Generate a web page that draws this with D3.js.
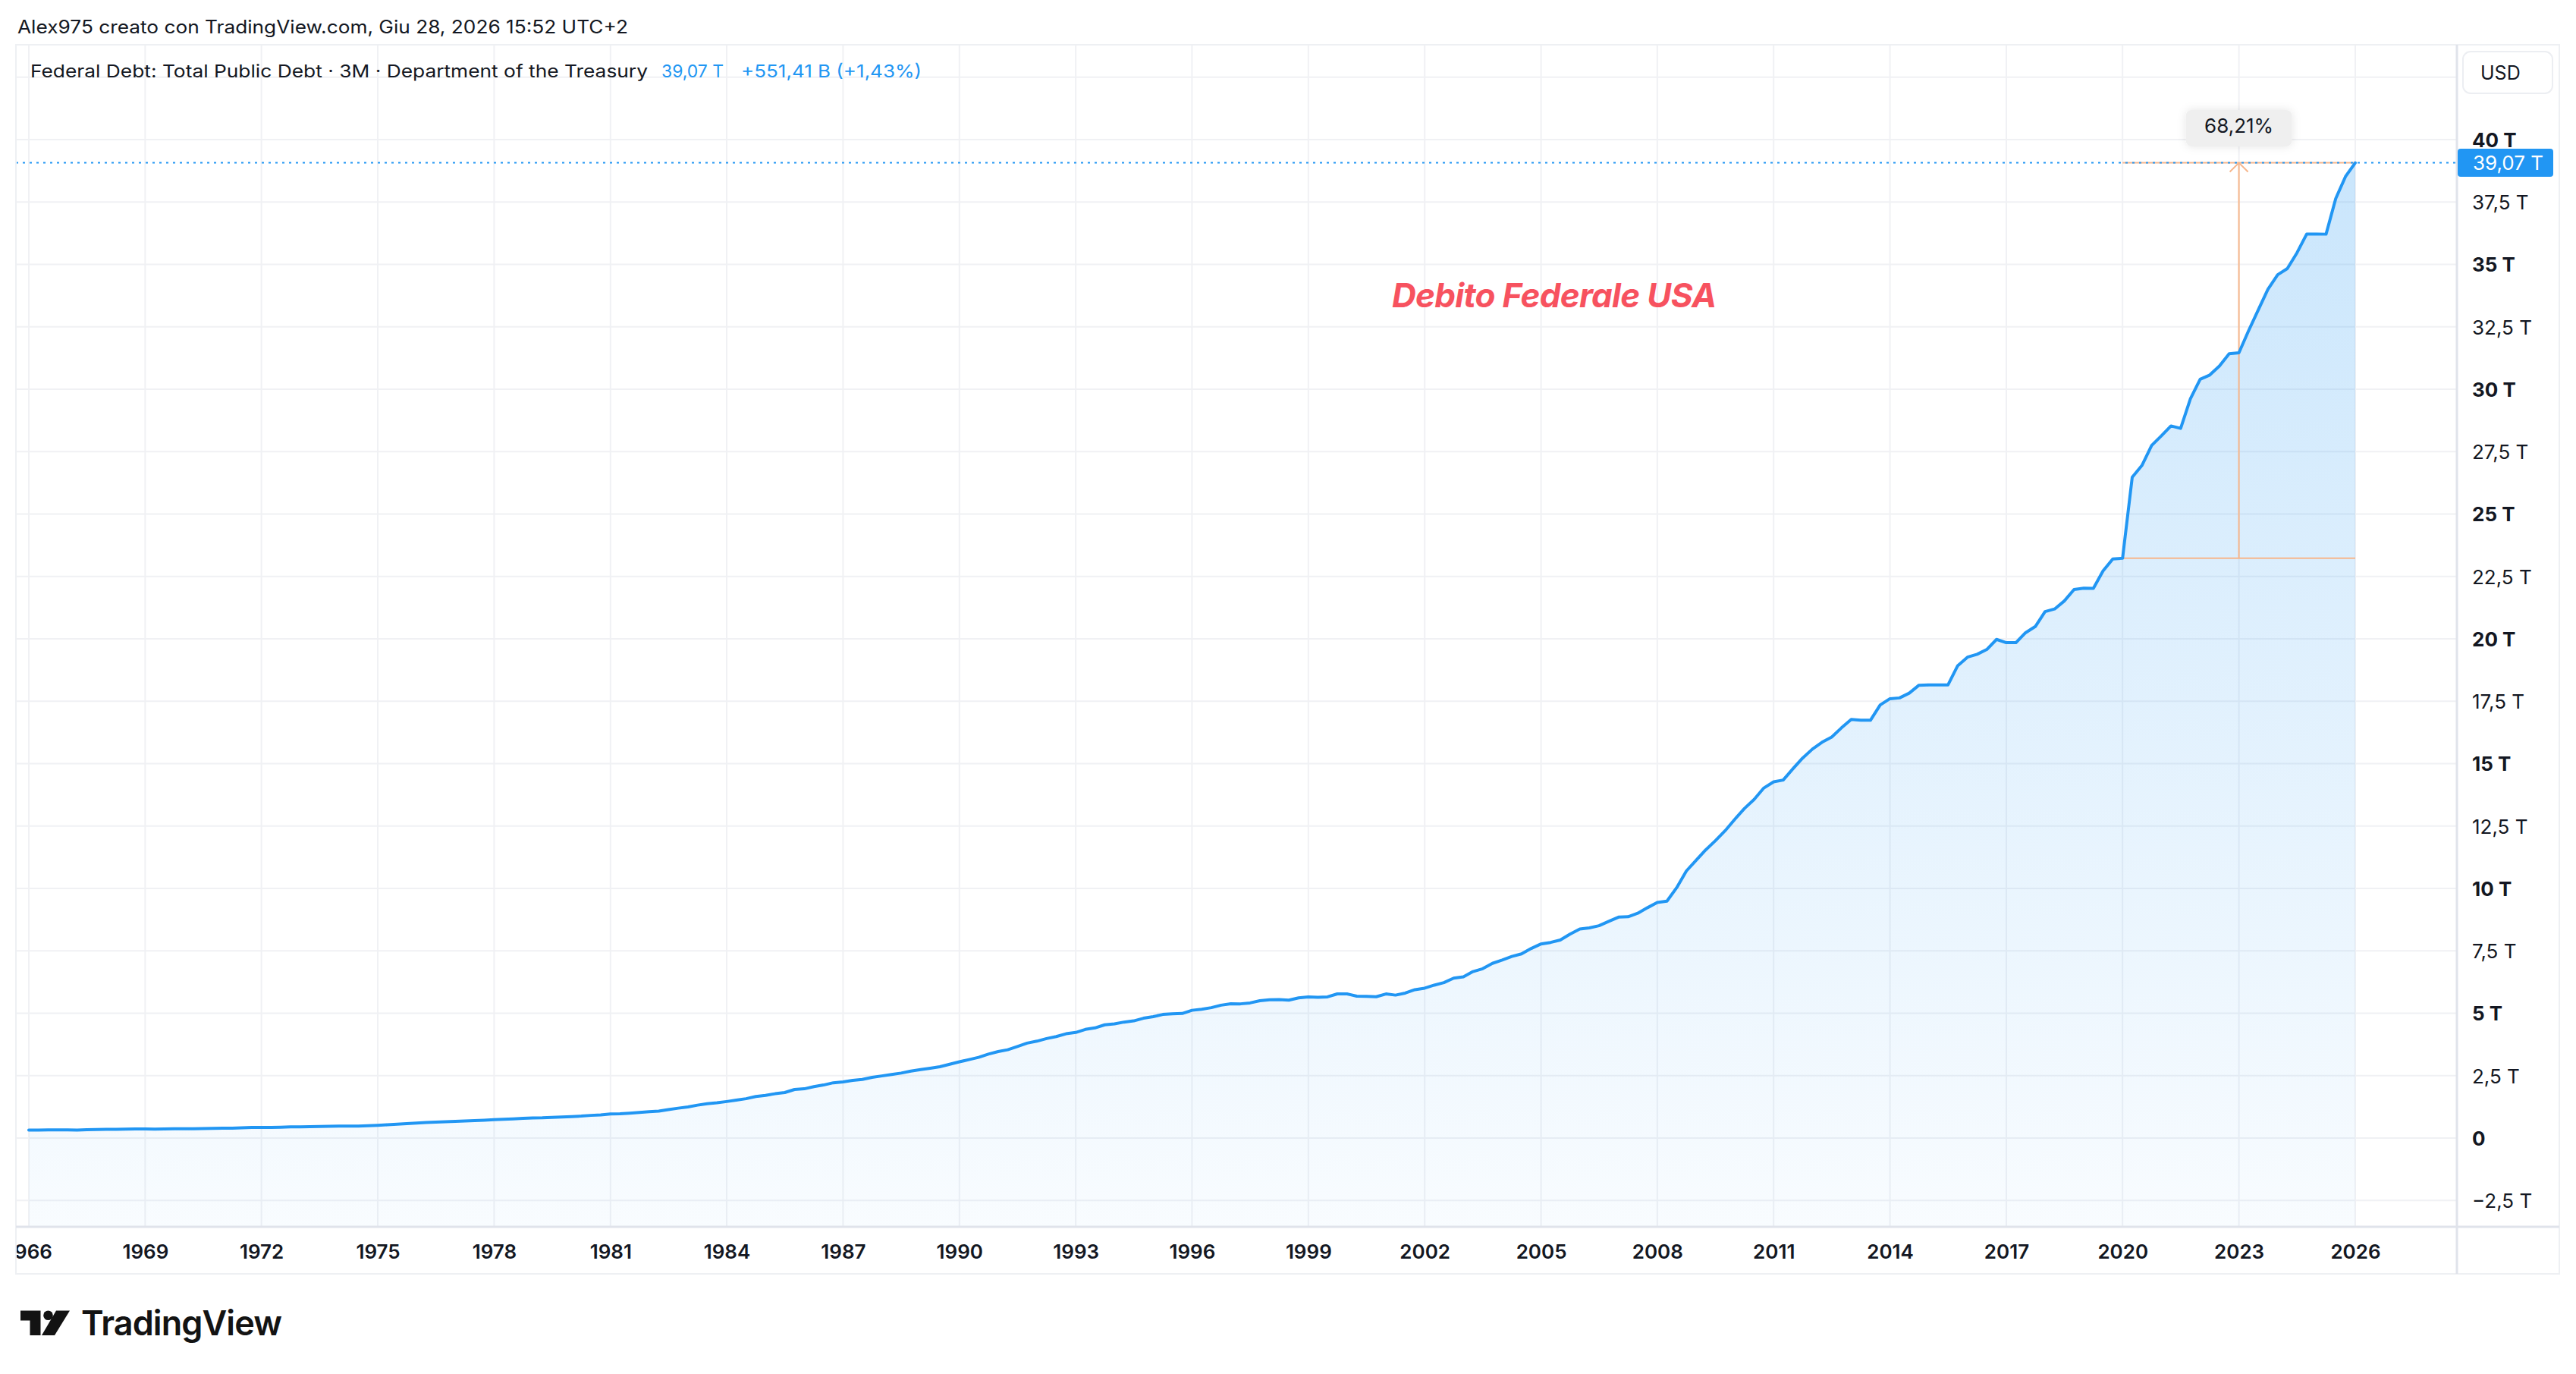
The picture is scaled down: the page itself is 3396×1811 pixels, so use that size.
<!DOCTYPE html>
<html><head><meta charset="utf-8">
<script src="https://cdn.jsdelivr.net/npm/d3@7"></script>
<style>
body{margin:0;background:#fff;}
svg{display:block;font-family:Inter,"Noto Sans",sans-serif;}
</style></head><body>
<svg id="c" width="3396" height="1811"></svg>
<script>
// ---------- DATA (Federal Debt: Total Public Debt, billions USD, quarterly from 1966 Q1) ----------
const startYear = 1966;
const debtBillions = [
  321, 317, 324, 329,      // 1966
  330, 322, 337, 344,      // 1967
  349, 348, 358, 363,      // 1968
  362, 354, 366, 370,      // 1969
  372, 370, 383, 390,      // 1970
  392, 398, 414, 425,      // 1971
  428, 427, 436, 447,      // 1972
  452, 458, 463, 470,      // 1973
  475, 475, 482, 492,      // 1974
  509, 533, 554, 576,      // 1975
  599, 620, 635, 654,      // 1976
  672, 685, 698, 718,      // 1977
  737, 750, 771, 790,      // 1978
  806, 812, 827, 845,      // 1979
  862, 878, 908, 930,      // 1980
  964, 971, 998, 1028,     // 1981
  1058, 1080, 1142, 1197,  // 1982
  1244, 1318, 1377, 1411,  // 1983
  1463, 1518, 1577, 1663,  // 1984
  1710, 1775, 1823, 1945,  // 1985
  1973, 2060, 2125, 2214,  // 1986
  2251, 2310, 2350, 2431,  // 1987
  2488, 2547, 2602, 2684,  // 1988
  2741, 2799, 2857, 2954,  // 1989
  3053, 3143, 3233, 3364,  // 1990
  3465, 3538, 3665, 3802,  // 1991
  3881, 3985, 4065, 4177,  // 1992
  4231, 4352, 4412, 4536,  // 1993
  4576, 4646, 4693, 4800,  // 1994
  4864, 4951, 4974, 4989,  // 1995
  5118, 5162, 5224, 5323,  // 1996
  5381, 5376, 5413, 5502,  // 1997
  5542, 5548, 5526, 5614,  // 1998
  5651, 5638, 5656, 5776,  // 1999
  5773, 5686, 5674, 5662,  // 2000
  5773, 5726, 5807, 5943,  // 2001
  6006, 6126, 6228, 6405,  // 2002
  6460, 6670, 6783, 6998,  // 2003
  7131, 7274, 7379, 7596,  // 2004
  7776, 7837, 7933, 8170,  // 2005
  8371, 8420, 8507, 8680,  // 2006
  8849, 8867, 9008, 9229,  // 2007
  9437, 9492, 10025, 10699,   // 2008
  11127, 11545, 11910, 12311, // 2009
  12773, 13202, 13562, 14025, // 2010
  14270, 14343, 14790, 15223, // 2011
  15582, 15856, 16066, 16433, // 2012
  16772, 16738, 16738, 17352, // 2013
  17602, 17633, 17824, 18141, // 2014
  18152, 18152, 18151, 18922, // 2015
  19265, 19382, 19573, 19977, // 2016
  19847, 19845, 20245, 20493, // 2017
  21090, 21195, 21516, 21974, // 2018
  22028, 22023, 22719, 23201, // 2019
  23228, 26477, 26945, 27748, // 2020
  28133, 28529, 28429, 29617, // 2021
  30401, 30568, 30929, 31420, // 2022
  31458, 32332, 33167, 34001, // 2023
  34587, 34832, 35465, 36218, // 2024
  36215, 36212, 37638, 38519.5, // 2025
  39070.91                    // 2026 Q1
];
const xTickYears = [1966,1969,1972,1975,1978,1981,1984,1987,1990,1993,1996,1999,2002,2005,2008,2011,2014,2017,2020,2023,2026];
const yTickValues = [-2.5,0,2.5,5,7.5,10,12.5,15,17.5,20,22.5,25,27.5,30,32.5,35,37.5,40];
const yGridExtra = [42.5];
const measureStart = new Date(2020,0,1);
const headerText = "Alex975 creato con TradingView.com, Giu 28, 2026 15:52 UTC+2";
const legendTitle = "Federal Debt: Total Public Debt · 3M · Department of the Treasury";
const chartTitle = "Debito Federale USA";
const currency = "USD";

// ---------- SETUP ----------
const it = d3.formatLocale({decimal:",", thousands:".", grouping:[3], currency:["","€"], minus:"−"});
const fmtT = it.format(".1~f");
const fmt2 = it.format(".2f");

const data = debtBillions.map((v,i)=>({date:new Date(startYear+Math.floor(i/4),(i%4)*3,1), t:v/1000}));
const last = data[data.length-1], prev = data[data.length-2];
const base = data.find(d=>+d.date===+measureStart);

const pane = {left:21, top:59, right:3239, bottom:1617};
const axisBottomY = 1679, priceRight = 3374;

const x = d3.scaleTime().domain([new Date(1966,0,1), new Date(2026,0,1)]).range([38, 3105]);
const y = d3.scaleLinear().domain([0,40]).range([1500,184]);

const svg = d3.select("#c");
svg.append("rect").attr("width",3396).attr("height",1811).attr("fill","#fff");

const defs = svg.append("defs");
defs.append("clipPath").attr("id","paneClip").append("rect")
  .attr("x",pane.left).attr("y",pane.top).attr("width",pane.right-pane.left).attr("height",pane.bottom-pane.top);
defs.append("clipPath").attr("id","timeClip").append("rect")
  .attr("x",pane.left+1).attr("y",pane.bottom).attr("width",pane.right-pane.left).attr("height",axisBottomY-pane.bottom);
const grad = defs.append("linearGradient").attr("id","areaGrad").attr("gradientUnits","userSpaceOnUse")
  .attr("x1",0).attr("x2",0).attr("y1",y(d3.max(data,d=>d.t))).attr("y2",pane.bottom);
grad.append("stop").attr("offset",0).attr("stop-color","#2196F3").attr("stop-opacity",0.24);
grad.append("stop").attr("offset",1).attr("stop-color","#2196F3").attr("stop-opacity",0.03);
const shadow = defs.append("filter").attr("id","shadow").attr("x","-30%").attr("y","-60%").attr("width","160%").attr("height","220%");
shadow.append("feDropShadow").attr("dx",0).attr("dy",0).attr("stdDeviation",6).attr("flood-color","#000").attr("flood-opacity",0.10);

// ---------- GRID ----------
const grid = svg.append("g");
grid.selectAll("line.h").data(yTickValues.concat(yGridExtra)).join("line")
  .attr("x1",pane.left).attr("x2",pane.right).attr("y1",d=>y(d)).attr("y2",d=>y(d))
  .attr("stroke","#f0f1f4").attr("stroke-width",2);
grid.selectAll("line.v").data(xTickYears).join("line")
  .attr("x1",d=>x(new Date(d,0,1))).attr("x2",d=>x(new Date(d,0,1))).attr("y1",pane.top).attr("y2",pane.bottom)
  .attr("stroke","#f0f1f4").attr("stroke-width",2);

// ---------- SERIES ----------
const plot = svg.append("g").attr("clip-path","url(#paneClip)");
plot.append("path").datum(data)
  .attr("d", d3.area().x(d=>x(d.date)).y0(pane.bottom).y1(d=>y(d.t)))
  .attr("fill","url(#areaGrad)");

// measurement (price range) tool
const mx0 = x(base.date), mx1 = x(last.date), mxm = (mx0+mx1)/2;
const orange = "#f6b68c";
const meas = plot.append("g").attr("stroke",orange).attr("stroke-width",2).attr("fill","none");
meas.append("line").attr("x1",mx0).attr("x2",mx1).attr("y1",y(last.t)).attr("y2",y(last.t));
meas.append("line").attr("x1",mx0).attr("x2",mx1).attr("y1",y(base.t)).attr("y2",y(base.t));
meas.append("line").attr("x1",mxm).attr("x2",mxm).attr("y1",y(base.t)).attr("y2",y(last.t));
meas.append("path").attr("d",`M${mxm-12},${y(last.t)+12}L${mxm},${y(last.t)}L${mxm+12},${y(last.t)+12}`);

plot.append("path").datum(data)
  .attr("d", d3.line().x(d=>x(d.date)).y(d=>y(d.t)))
  .attr("fill","none").attr("stroke","#2196F3").attr("stroke-width",4)
  .attr("stroke-linejoin","round").attr("stroke-linecap","round");

// last price dotted line
svg.append("line").attr("x1",pane.left).attr("x2",pane.right).attr("y1",y(last.t)).attr("y2",y(last.t))
  .attr("stroke","#2196F3").attr("stroke-width",2).attr("stroke-dasharray","3,6");

// measurement label
const pct = (last.t/base.t-1)*100;
svg.append("rect").attr("x",mxm-70).attr("y",145).attr("width",140).attr("height",48).attr("rx",8)
  .attr("fill","#efefef").attr("filter","url(#shadow)");
svg.append("text").attr("x",mxm).attr("y",175).attr("text-anchor","middle")
  .attr("font-size",26).attr("fill","#131722").text(fmt2(pct)+"%");

// title annotation
svg.append("text").attr("x",1835).attr("y",405).attr("font-size",44).attr("font-weight",700)
  .attr("font-style","italic").attr("fill","#F7525F").attr("textLength",428).text(chartTitle);

// ---------- AXES ----------
const yAxis = d3.axisRight(y).tickValues(yTickValues).tickSize(0).tickPadding(0)
  .tickFormat(d=> d===0 ? "0" : fmtT(d)+" T");
const gy = svg.append("g").attr("transform",`translate(3259,0)`).call(yAxis);
gy.select(".domain").remove();
gy.selectAll("text").attr("font-family","Inter,'Noto Sans',sans-serif").attr("font-size",26)
  .attr("fill","#131722").attr("dy","0.36em")
  .attr("font-weight",d=> (d%5===0 && d>=0) ? 700 : 400);

const xAxis = d3.axisBottom(x).tickValues(xTickYears.map(v=>new Date(v,0,1))).tickSize(0)
  .tickFormat(d3.timeFormat("%Y"));
const gx = svg.append("g").attr("clip-path","url(#timeClip)").append("g")
  .attr("transform",`translate(0,${pane.bottom})`).call(xAxis);
gx.select(".domain").remove();
gx.selectAll("text").attr("font-family","Inter,'Noto Sans',sans-serif").attr("font-size",26)
  .attr("font-weight",600).attr("fill","#131722").attr("y",42).attr("dy",0);

// ---------- FRAME ----------
const frame = svg.append("g").attr("fill","none");
frame.append("rect").attr("x",pane.left).attr("y",pane.top).attr("width",priceRight-pane.left)
  .attr("height",axisBottomY-pane.top).attr("stroke","#eef0f3").attr("stroke-width",2);
frame.append("line").attr("x1",pane.left).attr("x2",priceRight).attr("y1",pane.bottom).attr("y2",pane.bottom)
  .attr("stroke","#e0e3eb").attr("stroke-width",3);
frame.append("line").attr("x1",pane.right).attr("x2",pane.right).attr("y1",pane.top).attr("y2",axisBottomY)
  .attr("stroke","#e0e3eb").attr("stroke-width",3);

// last price tag
svg.append("rect").attr("x",3240).attr("y",y(last.t)-18.5).attr("width",126).attr("height",37).attr("rx",4)
  .attr("fill","#2196F3");
svg.append("text").attr("x",3260).attr("y",y(last.t)).attr("dy","0.36em").attr("font-size",26)
  .attr("fill","#fff").text(fmt2(last.t)+" T");

// USD button
svg.append("rect").attr("x",3247).attr("y",68).attr("width",118).attr("height",55).attr("rx",10)
  .attr("fill","#fff").attr("stroke","#eceef2").attr("stroke-width",2);
svg.append("text").attr("x",3270).attr("y",105).attr("font-size",25).attr("fill","#131722").text(currency);

// ---------- HEADER / LEGEND ----------
svg.append("text").attr("x",23).attr("y",44).attr("font-size",24).attr("fill","#131722")
  .attr("textLength",805).attr("lengthAdjust","spacingAndGlyphs").text(headerText);
svg.append("text").attr("x",40).attr("y",102).attr("font-size",23.5).attr("fill","#131722")
  .attr("textLength",814).attr("lengthAdjust","spacingAndGlyphs").text(legendTitle);
svg.append("text").attr("x",872).attr("y",102).attr("font-size",23.5).attr("fill","#2196F3")
  .attr("textLength",82).attr("lengthAdjust","spacingAndGlyphs").text(fmt2(last.t)+" T");
const diffB = (last.t-prev.t)*1000, diffPct = (last.t/prev.t-1)*100;
svg.append("text").attr("x",977).attr("y",102).attr("font-size",23.5).attr("fill","#2196F3")
  .attr("textLength",238).attr("lengthAdjust","spacingAndGlyphs").text("+"+fmt2(diffB)+" B (+"+fmt2(diffPct)+"%)");

// ---------- LOGO ----------
const logo = svg.append("g").attr("fill","#131313");
logo.append("path").attr("d","M27,1727.5H53.5V1760H39.5V1740.5H27Z");
logo.append("circle").attr("cx",63.5).attr("cy",1733.8).attr("r",6.3);
logo.append("path").attr("d","M74,1727.5H92L72,1760H55Z");
svg.append("text").attr("x",107).attr("y",1760).attr("font-size",45).attr("font-weight",600)
  .attr("fill","#131313").attr("textLength",265).text("TradingView");
</script>
</body></html>
